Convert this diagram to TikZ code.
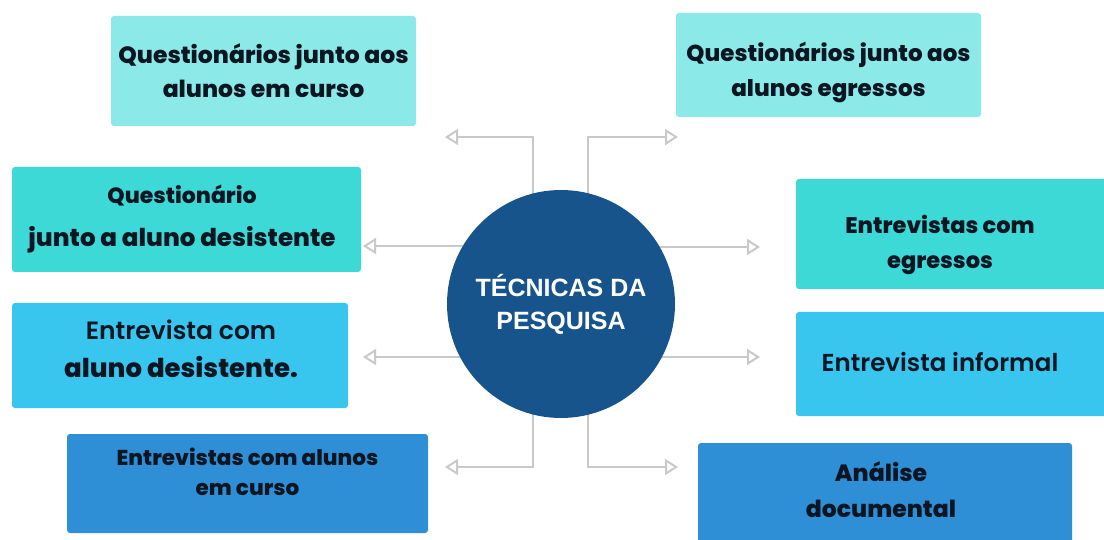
\documentclass[tikz,border=0pt]{standalone}
\usepackage{fontspec}
\IfFontExistsTF{Poppins ExtraBold}
  {\newfontfamily\popb{Poppins ExtraBold}}
  {\newfontfamily\popb{Poppins}[UprightFont=*, BoldFont=*, FakeBold=1.5]}
\IfFontExistsTF{Poppins SemiBold}
  {\newfontfamily\popmed{Poppins SemiBold}}
  {\newfontfamily\popmed{Poppins}[FakeBold=2]}
\newfontfamily\libs{Liberation Sans}
\usetikzlibrary{arrows.meta,backgrounds}
\definecolor{cLight}{HTML}{8BE9E7}
\definecolor{cTurq}{HTML}{3DD9D6}
\definecolor{cSky}{HTML}{38C6EF}
\definecolor{cBlue}{HTML}{2E8ED6}
\definecolor{cCirc}{HTML}{17548C}
\definecolor{cText}{HTML}{0B1622}
\definecolor{cLine}{HTML}{C9C9C9}
\newcommand\fsz[2]{\fontsize{#1}{#2}\selectfont}
\begin{document}
\begin{tikzpicture}[x=1pt,y=-1pt,
  box/.style={rectangle,rounded corners=3pt,inner sep=0pt},
  lbl/.style={align=center,inner sep=0pt,text=cText},
  hub/.style={circle,fill=cCirc,inner sep=0pt,minimum size=228pt,align=center,
              font=\libs\bfseries\fsz{25}{33},text=white},
  conn/.style={draw=cLine,line width=2pt,
               -{Triangle[open,length=13pt,width=16pt,line width=2pt]}}]
\useasboundingbox (0,0) rectangle (1104,540);
\clip (0,0) rectangle (1104,540);

% boxes
\node[box,fill=cLight,minimum width=305pt,minimum height=110pt] (b1) at (263.5,71) {};
\node[box,fill=cTurq,minimum width=349pt,minimum height=105pt] (b2) at (186.5,219.5) {};
\node[box,fill=cSky,minimum width=336pt,minimum height=105pt] (b3) at (180,355.5) {};
\node[box,fill=cBlue,minimum width=361pt,minimum height=99pt] (b4) at (247.5,483.5) {};
\node[box,fill=cLight,minimum width=305pt,minimum height=104pt] (b5) at (828.5,65) {};
\node[box,fill=cTurq,minimum width=314pt,minimum height=110pt] (b6) at (953,234) {};
\node[box,fill=cSky,minimum width=314pt,minimum height=104pt] (b7) at (953,364) {};
\node[box,fill=cBlue,minimum width=374pt,minimum height=107pt] (b8) at (885,496.5) {};

% labels
\node[lbl,font=\popb\fsz{23.5}{34}] (t1) at (263.5,71)
  {Questionários junto aos\\alunos em curso};
\node[lbl,font=\popb\fsz{24.6}{43}] (t2) at (182,219.5)
  {{\fsz{22}{43}Questionário}\\junto a aluno desistente};
\node[lbl,font=\popb\fsz{26}{38}] (t3) at (181,349)
  {{\popmed\fsz{25}{38}Entrevista com}\\aluno desistente.};
\node[lbl,font=\popb\fsz{21.5}{30}] (t4) at (247.5,472)
  {Entrevistas com alunos\\em curso};
\node[lbl,font=\popb\fsz{23}{35}] (t5) at (828.5,72)
  {Questionários junto aos\\alunos egressos};
\node[lbl,font=\popb\fsz{22.5}{35}] (t6) at (940,244.5)
  {Entrevistas com\\egressos};
\node[lbl,font=\popmed\fsz{24.5}{34}] (t7) at (940,362)
  {Entrevista informal};
\node[lbl,font=\popb\fsz{23.5}{36}] (t8) at (881,489.5)
  {Análise\\documental};

% hub
\node[hub] (c) at (561,304) {TÉCNICAS DA\\PESQUISA};

% arrow ends
\coordinate (a1) at (445,137);
\coordinate (a2) at (678,137);
\coordinate (a3) at (445,467);
\coordinate (a4) at (678,467);
\coordinate (a5) at (363,246);
\coordinate (a6) at (363,357);
\coordinate (a7) at (760,247);
\coordinate (a8) at (760,357);

\begin{scope}[on background layer]
\draw[conn] ([xshift=-28pt]c.center) |- (a1);
\draw[conn] ([xshift=27pt]c.center) |- (a2);
\draw[conn] ([xshift=-28pt]c.center) |- (a3);
\draw[conn] ([xshift=27pt]c.center) |- (a4);
\draw[conn] (c.center |- a5) -- (a5);
\draw[conn] (c.center |- a6) -- (a6);
\draw[conn] (c.center |- a7) -- (a7);
\draw[conn] (c.center |- a8) -- (a8);
\end{scope}
\end{tikzpicture}
\end{document}
